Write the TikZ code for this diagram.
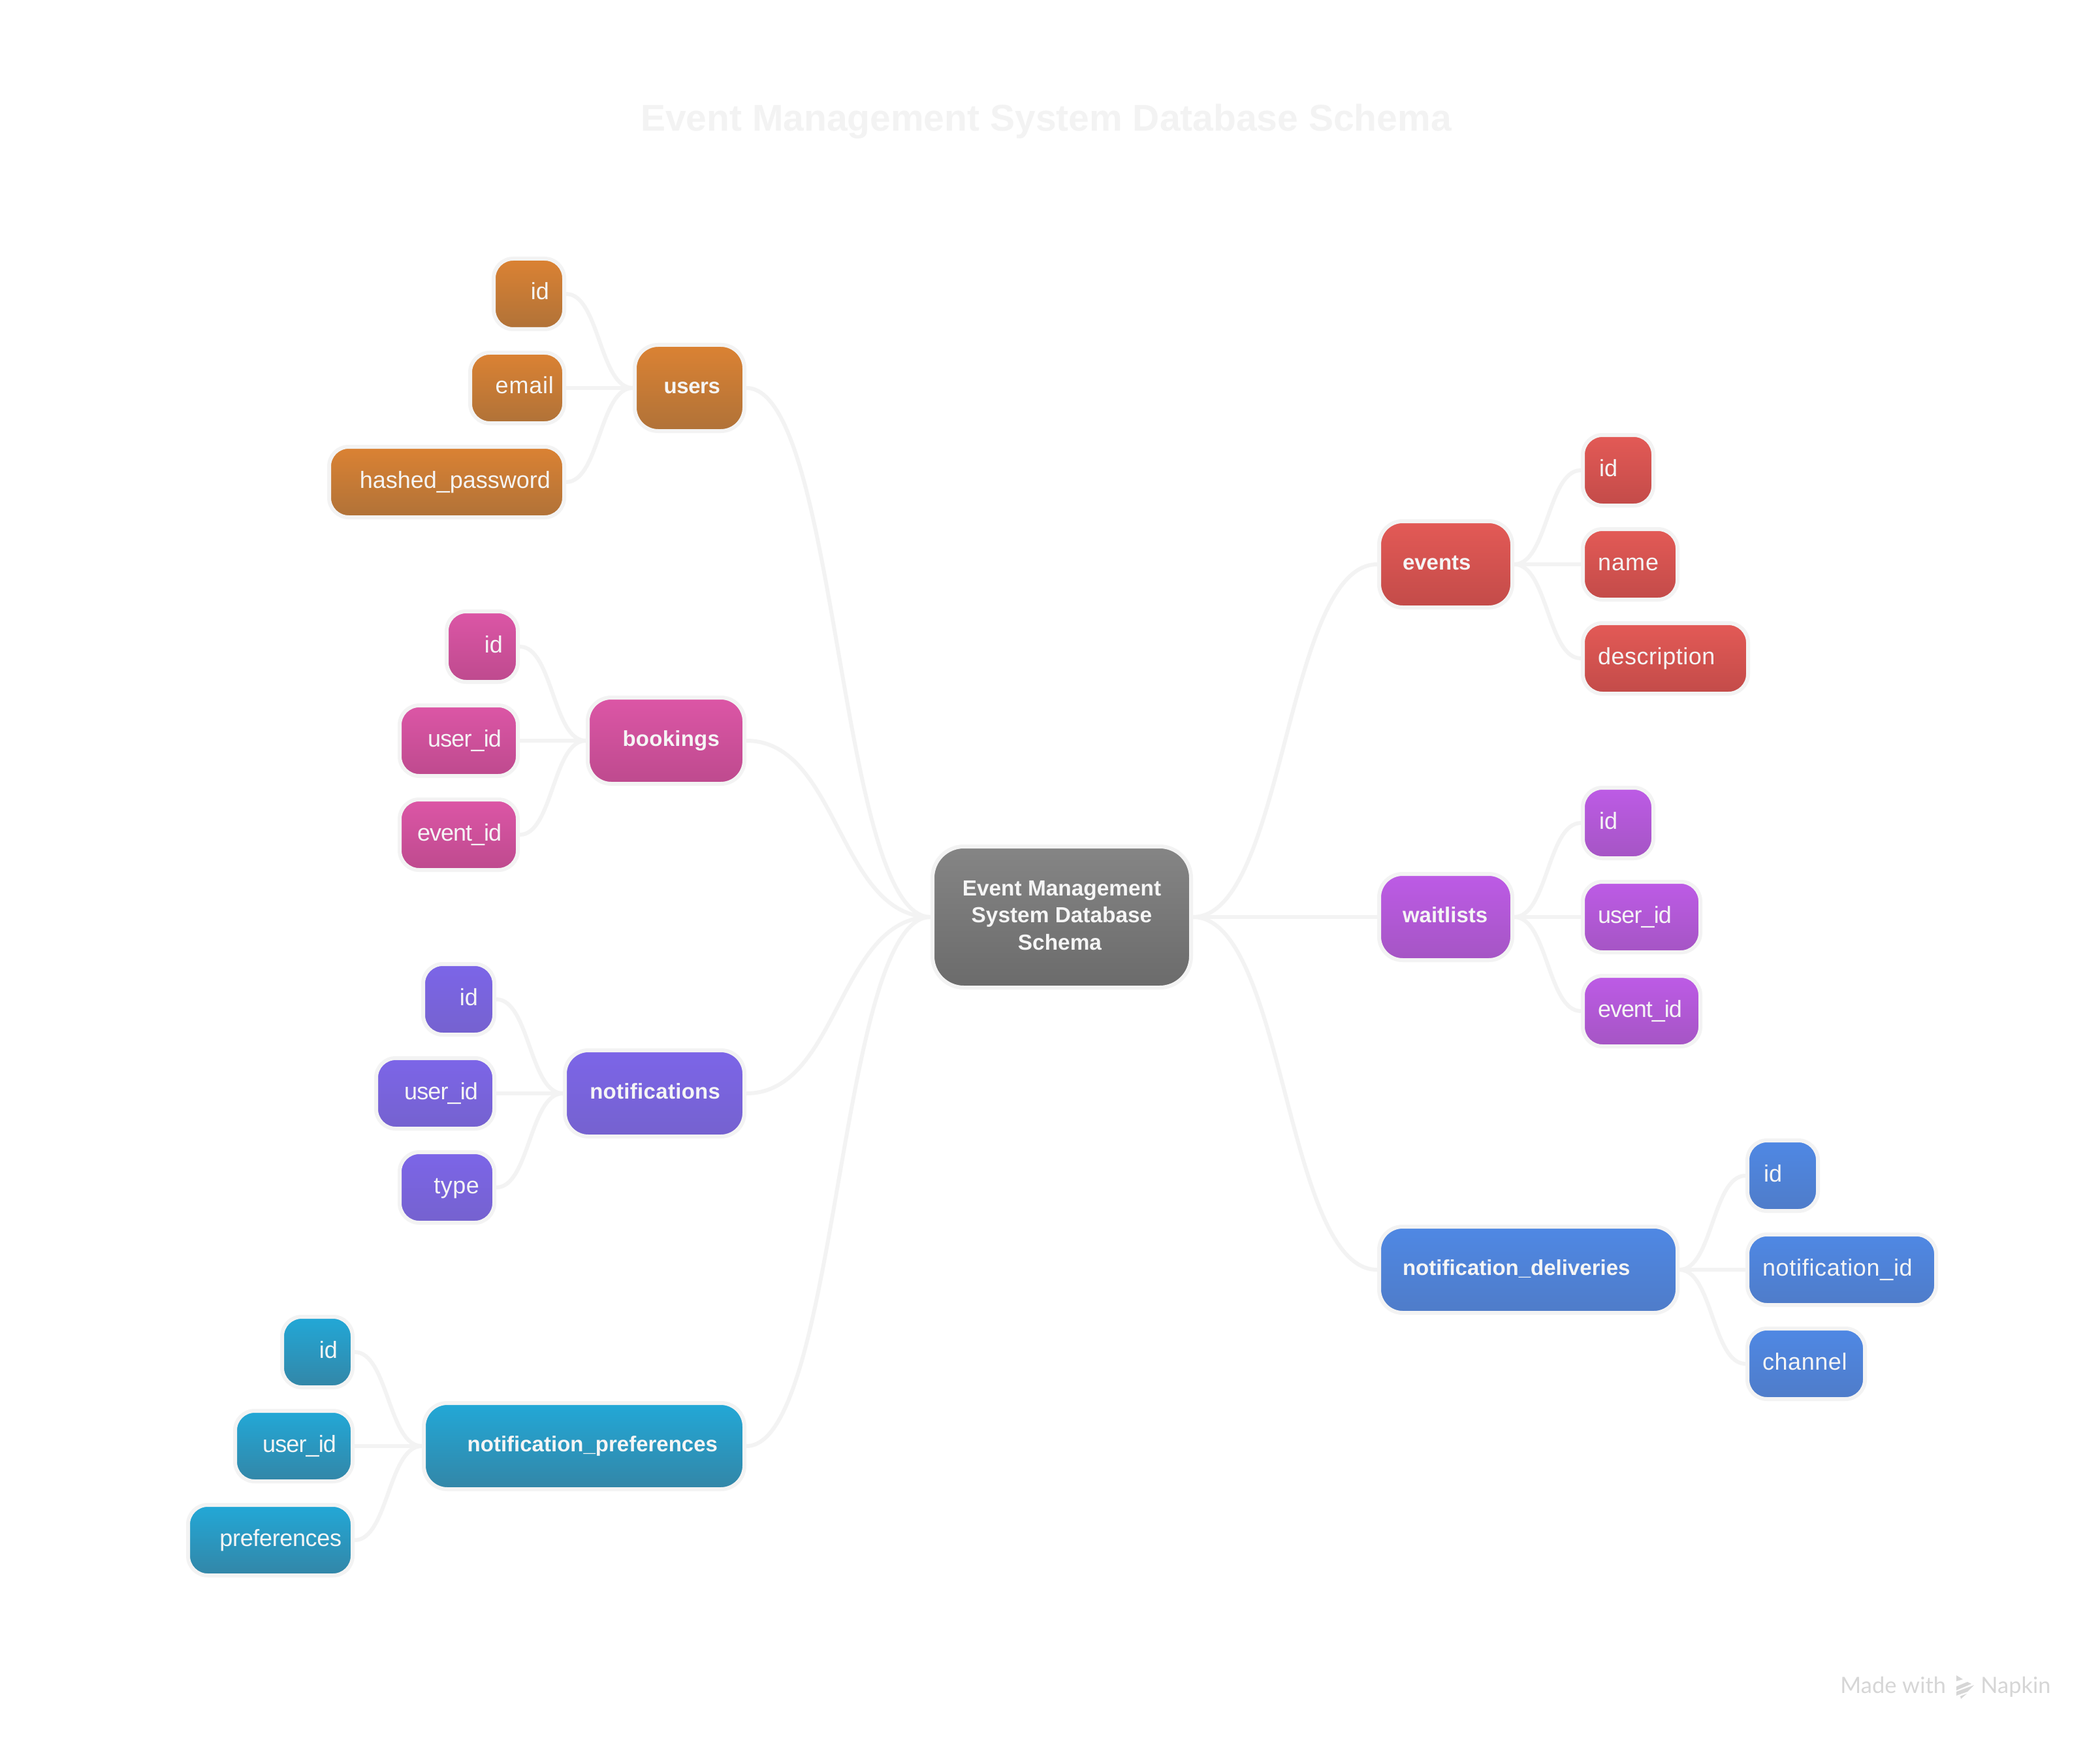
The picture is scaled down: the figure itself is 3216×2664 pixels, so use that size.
\documentclass[tikz,border=0pt]{standalone}
\usepackage{fontspec}
\setmainfont{Liberation Sans}
\newfontfamily\wmfont{Lato}
\usetikzlibrary{calc}
\definecolor{strokec}{HTML}{F3F3F3}
\definecolor{textc}{HTML}{F5F5F5}
\definecolor{wmc}{HTML}{D6D6D6}
\definecolor{orT}{HTML}{DB8233}\definecolor{orB}{HTML}{B07238}
\definecolor{piT}{HTML}{DC56A6}\definecolor{piB}{HTML}{BE4A8E}
\definecolor{inT}{HTML}{7C65E8}\definecolor{inB}{HTML}{7562CF}
\definecolor{teT}{HTML}{22A8D7}\definecolor{teB}{HTML}{3386A7}
\definecolor{reT}{HTML}{E35A56}\definecolor{reB}{HTML}{C34B49}
\definecolor{maT}{HTML}{BD5BE6}\definecolor{maB}{HTML}{A555C4}
\definecolor{blT}{HTML}{4F88E4}\definecolor{blB}{HTML}{4F7CC9}
\definecolor{grT}{HTML}{858585}\definecolor{grB}{HTML}{6B6B6B}
\tikzset{
  box/.style={draw=strokec,line width=3pt,text=textc,shading angle=0,
    inner ysep=0pt},
  leafbox/.style={box,rounded corners=15pt,minimum height=54pt,text height=10pt,text depth=1pt,
    font=\fontsize{18}{20}\selectfont},
  tablebox/.style={box,rounded corners=18pt,minimum height=66pt,text height=9pt,text depth=1pt,
    font=\fontsize{16.5}{20}\bfseries\selectfont},
  rootbox/.style={box,rounded corners=24pt,minimum width=198pt,minimum height=108pt,
    align=center,inner xsep=0pt,font=\fontsize{16.7}{20.75}\bfseries\selectfont},
  link/.style={draw=strokec,line width=3pt},
  wm/.style={text=wmc,inner sep=0pt,font=\wmfont\fontsize{17.2}{20}\selectfont,anchor=base west},
}
\newcommand\ls[2]{{\addfontfeature{LetterSpace=#1}#2}}
% #1 style #2 name #3 colour prefix #4 left #5 right #6 cy #7 pad #8 align #9 text (px coordinates of the fill)
\newcommand\bx[9]{%
  \node[#1,top color=#3T,bottom color=#3B,align=#8,inner xsep=#7*0.5pt+1.5pt,
    text width={(#5-#4-2*#7)*0.5pt},minimum width={(#5-#4+6)*0.5pt}] (#2) at ({(#4+#5)/2},#6) {#9};}
\newcommand\lnk[2]{\draw[link] let \p1=(#1), \p2=(#2), \n1={(\x1+\x2)/2} in (\p1) .. controls (\n1,\y1) and (\n1,\y2) .. (\p2);}
\begin{document}
\begin{tikzpicture}[x=0.5pt,y=-0.5pt]
\useasboundingbox[fill=white] (0,0) rectangle (3216,2664);
\node[text=strokec,inner sep=0pt,font=\fontsize{28.5}{34}\bfseries\selectfont] (title) at (1602,186) {Event Management System Database Schema};
\node[rootbox,top color=grT,bottom color=grB] (root) at (1626,1404) {Event Management\\System Database\\Schema\hspace{3pt}\rule[-3pt]{0pt}{3pt}};
% left groups
\bx{tablebox}{users}{or}{975}{1137}{594}{34}{flush right}{\ls{-1.2}{users}}
\bx{leafbox}{u1}{or}{759}{861}{450}{20}{flush right}{id}
\bx{leafbox}{u2}{or}{723}{861}{594}{13}{flush right}{\ls{2.3}{email}}
\bx{leafbox}{u3}{or}{507}{861}{738}{18}{flush right}{hashed\_password}
\bx{tablebox}{bookings}{pi}{903}{1137}{1134}{35}{flush right}{\ls{0.8}{bookings}}
\bx{leafbox}{b1}{pi}{687}{790}{990}{20}{flush right}{id}
\bx{leafbox}{b2}{pi}{615}{790}{1134}{22}{flush right}{\ls{-2.4}{user\_id}}
\bx{leafbox}{b3}{pi}{615}{790}{1278}{22}{flush right}{\ls{-2.9}{event\_id}}
\bx{tablebox}{notifications}{in}{868}{1137}{1674}{34}{flush right}{\ls{0.9}{notifications}}
\bx{leafbox}{n1}{in}{651}{754}{1530}{22}{flush right}{id}
\bx{leafbox}{n2}{in}{579}{754}{1674}{22}{flush right}{\ls{-2.4}{user\_id}}
\bx{leafbox}{n3}{in}{615}{754}{1818}{20}{flush right}{\ls{1.4}{type}}
\bx{tablebox}{prefs}{te}{652}{1137}{2214}{38}{flush right}{notification\_preferences}
\bx{leafbox}{p1}{te}{435}{537}{2070}{20}{flush right}{id}
\bx{leafbox}{p2}{te}{363}{537}{2214}{22}{flush right}{\ls{-2.4}{user\_id}}
\bx{leafbox}{p3}{te}{291}{537}{2358}{14}{flush right}{\ls{-1}{preferences}}
% right groups
\bx{tablebox}{events}{re}{2115}{2313}{864}{33}{flush left}{events}
\bx{leafbox}{e1}{re}{2427}{2529}{720}{22}{flush left}{id}
\bx{leafbox}{e2}{re}{2427}{2566}{864}{20}{flush left}{\ls{2.8}{name}}
\bx{leafbox}{e3}{re}{2427}{2674}{1008}{20}{flush left}{\ls{1.5}{description}}
\bx{tablebox}{waitlists}{ma}{2115}{2313}{1404}{33}{flush left}{waitlists}
\bx{leafbox}{w1}{ma}{2427}{2529}{1260}{22}{flush left}{id}
\bx{leafbox}{w2}{ma}{2427}{2601}{1404}{20}{flush left}{\ls{-2.4}{user\_id}}
\bx{leafbox}{w3}{ma}{2427}{2601}{1548}{20}{flush left}{\ls{-2.9}{event\_id}}
\bx{tablebox}{deliveries}{bl}{2115}{2566}{1944}{33}{flush left}{notification\_deliveries}
\bx{leafbox}{d1}{bl}{2679}{2781}{1800}{22}{flush left}{id}
\bx{leafbox}{d2}{bl}{2679}{2962}{1944}{20}{flush left}{\ls{1.9}{notification\_id}}
\bx{leafbox}{d3}{bl}{2679}{2853}{2088}{20}{flush left}{\ls{1.6}{channel}}
% connectors
\foreach \a/\b in {users/root,bookings/root,notifications/root,prefs/root,
  u1/users,u2/users,u3/users,b1/bookings,b2/bookings,b3/bookings,
  n1/notifications,n2/notifications,n3/notifications,p1/prefs,p2/prefs,p3/prefs}
  {\lnk{\a.east}{\b.west}}
\foreach \a/\b in {root/events,root/waitlists,root/deliveries,
  events/e1,events/e2,events/e3,waitlists/w1,waitlists/w2,waitlists/w3,
  deliveries/d1,deliveries/d2,deliveries/d3}
  {\lnk{\a.east}{\b.west}}
% watermark
\node[wm] (made) at (2818,2592) {Made with};
\node[wm] (napkin) at (3033,2592) {Napkin};
\fill[wmc] (2996,2565)--(3006,2571)--(2996,2574)--cycle;
\fill[wmc] (2996,2582)--(3013,2575)--(3019,2578)--(2996,2588)--cycle;
\fill[wmc] (2996,2590)--(3023,2580)--(3013,2590)--(2996,2596)--cycle;
\fill[wmc] (3002,2597)--(3012,2593)--(3003,2601)--cycle;
\end{tikzpicture}
\end{document}
